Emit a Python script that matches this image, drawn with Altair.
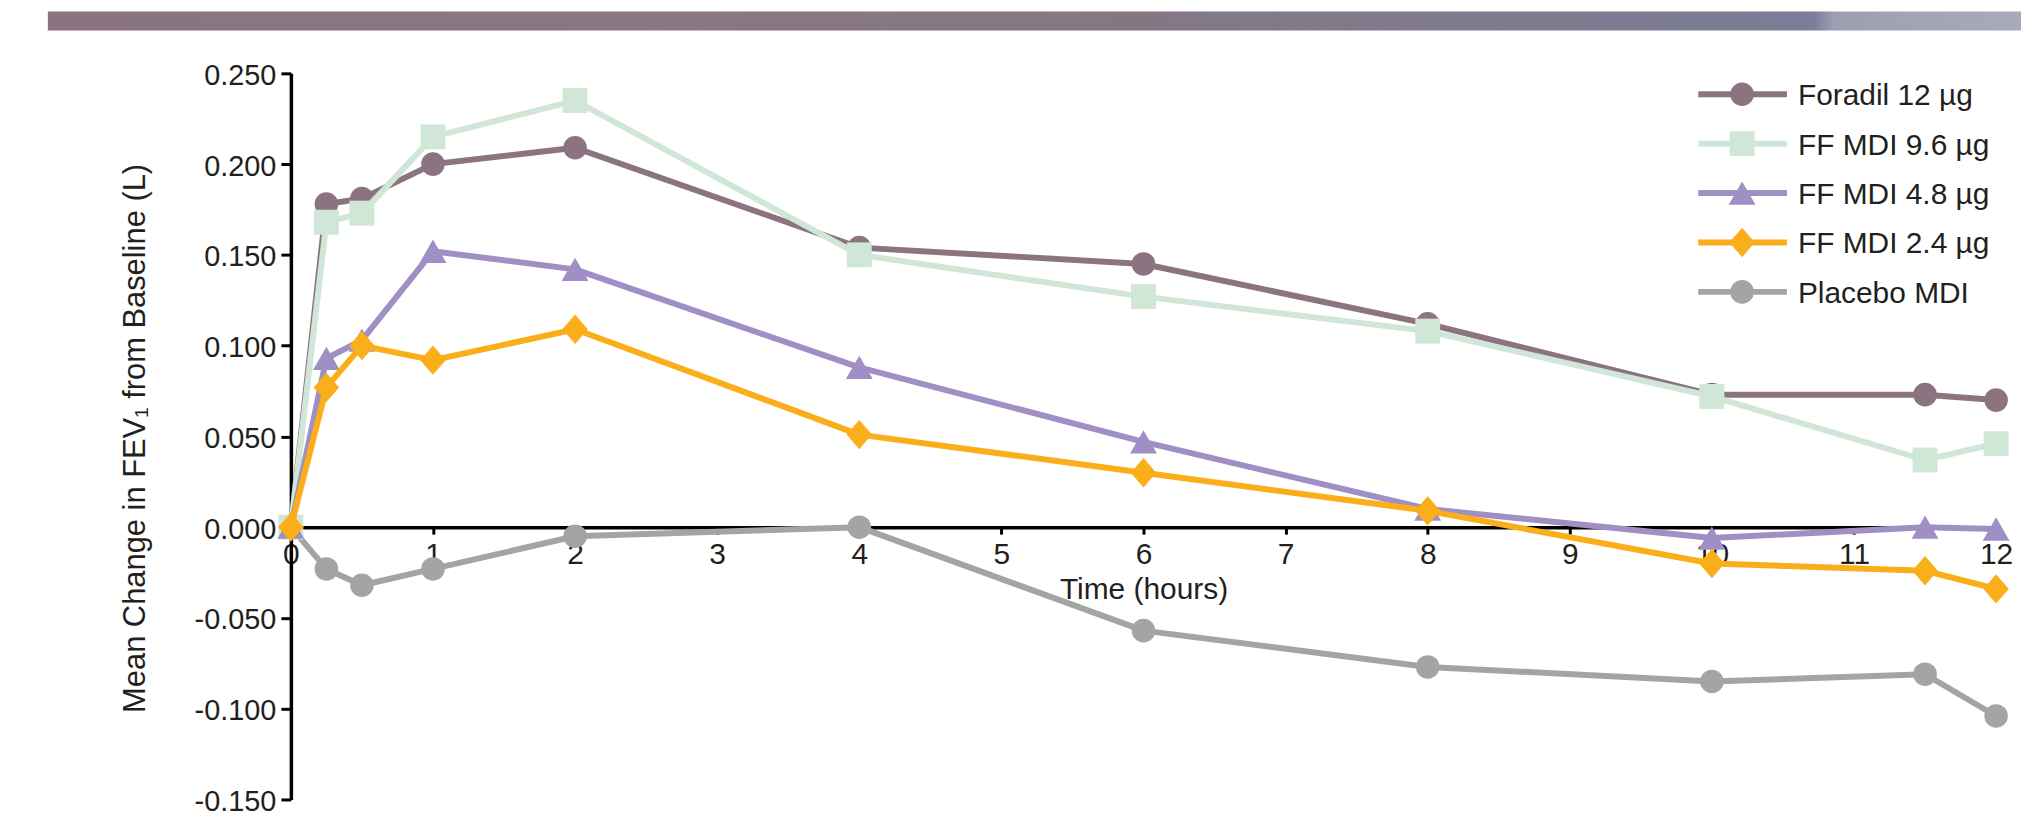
import altair as alt
import pandas as pd

# ---------------- data ----------------
hours = [0, 0.25, 0.5, 1, 2, 4, 6, 8, 10, 11.5, 12]
series_names = ["Foradil 12 µg", "FF MDI 9.6 µg", "FF MDI 4.8 µg", "FF MDI 2.4 µg", "Placebo MDI"]
foradil_12 = [0, 0.178, 0.181, 0.200, 0.209, 0.154, 0.145, 0.112, 0.073, 0.073, 0.070]
ff_mdi_9_6 = [0, 0.168, 0.173, 0.215, 0.235, 0.150, 0.127, 0.108, 0.072, 0.037, 0.046]
ff_mdi_4_8 = [0, 0.093, 0.103, 0.152, 0.142, 0.088, 0.047, 0.010, -0.006, 0.000, -0.001]
ff_mdi_2_4 = [0, 0.077, 0.100, 0.092, 0.109, 0.051, 0.030, 0.009, -0.020, -0.024, -0.034]
placebo_mdi = [0, -0.023, -0.032, -0.023, -0.005, 0.000, -0.057, -0.077, -0.085, -0.081, -0.104]
y_ticks = [-0.15, -0.10, -0.05, 0.0, 0.05, 0.10, 0.15, 0.20, 0.25]
x_ticks = list(range(0, 13))

series_values = [foradil_12, ff_mdi_9_6, ff_mdi_4_8, ff_mdi_2_4, placebo_mdi]

# ---------------- styles ----------------
colors = ["#8b7480", "#d0e7d8", "#a08fc5", "#f9ae1a", "#a3a5a4"]
diamond = "M0,-1.1L0.95,0L0,1.1L-0.95,0Z"
shapes = ["circle", "square", "triangle-up", diamond, "circle"]
sizes = [560, 625, 729, 720, 560]
draw_order = [4, 0, 1, 2, 3]  # bottom -> top

FONT = "Liberation Sans"
TXT = "#231f20"
W, H = 1712, 729
YMIN, YMAX = -0.15, 0.25
zero_px = H * YMAX / (YMAX - YMIN)

rows = []
for name, vals in zip(series_names, series_values):
    for t, v in zip(hours, vals):
        rows.append({"series": name, "hours": t, "value": v})
df = pd.DataFrame(rows)

color_scale = alt.Scale(domain=series_names, range=colors)
shape_scale = alt.Scale(domain=series_names, range=shapes)

x_enc = alt.X(
    "hours:Q",
    scale=alt.Scale(domain=[0, 12], nice=False, zero=False),
    axis=alt.Axis(
        values=x_ticks, format="d", title="Time (hours)", grid=False,
        offset=-(H - zero_px), domainColor="black", domainWidth=3.5,
        tickColor="black", tickWidth=3, tickSize=7,
        labelFont=FONT, labelFontSize=30, labelColor=TXT, labelPadding=5,
        labelFlush=False, labelOverlap=False,
        titleFont=FONT, titleFontSize=30, titleFontWeight="normal", titleColor=TXT,
        titleBaseline="alphabetic", titleY=72,
    ),
)
y_enc = alt.Y(
    "value:Q",
    scale=alt.Scale(domain=[YMIN, YMAX], nice=False, zero=False),
    axis=alt.Axis(
        values=y_ticks, title="Mean Change in FEV\u2081 from Baseline (L)", grid=False,
        labelExpr="replace(format(datum.value, '.3f'), '\u2212', '-')",
        domainColor="black", domainWidth=3.5, tickColor="black", tickWidth=3, tickSize=10,
        labelFont=FONT, labelFontSize=29, labelColor=TXT, labelPadding=5, labelOffset=2,
        labelFlush=False, labelOverlap=False,
        titleFont=FONT, titleFontSize=31, titleFontWeight="normal", titleColor=TXT,
        titleAngle=-90, titleBaseline="alphabetic", titleAlign="center",
        titleX=-147, titleY=366,
    ),
)
color_enc = alt.Color("series:N", scale=color_scale, legend=None)
shape_enc = alt.Shape("series:N", scale=shape_scale, legend=None)

# header band
band = alt.Chart(pd.DataFrame({"a": [0]})).mark_rect(
    color=alt.Gradient(
        gradient="linear", x1=0, x2=1, y1=0, y2=0,
        stops=[
            alt.GradientStop(color="#8b7480", offset=0),
            alt.GradientStop(color="#8a7584", offset=0.3),
            alt.GradientStop(color="#847784", offset=0.55),
            alt.GradientStop(color="#7b7c94", offset=0.85),
            alt.GradientStop(color="#7a7e98", offset=0.895),
            alt.GradientStop(color="#9c9eb2", offset=0.905),
            alt.GradientStop(color="#a8aabc", offset=1),
        ],
    )
).encode(x=alt.value(-244), x2=alt.value(1737), y=alt.value(-62), y2=alt.value(-43))

layers = [band]
for i in draw_order:
    name = series_names[i]
    base = alt.Chart(df).transform_filter(alt.datum.series == name)
    layers.append(base.mark_line(strokeWidth=6, strokeJoin="round").encode(
        x=x_enc, y=y_enc, color=color_enc))
    layers.append(base.mark_point(filled=True, opacity=1, size=sizes[i], strokeWidth=0).encode(
        x=x_enc, y=y_enc, color=color_enc, shape=shape_enc))

# custom legend (line + marker + label), positioned in pixels
leg_df = pd.DataFrame({
    "series": series_names,
    "ly": [21 + k * 49.6 for k in range(len(series_names))],
})
leg_y = alt.Y("ly:Q", scale=None, axis=None)
leg_rule = alt.Chart(leg_df).mark_rule(strokeWidth=6).encode(
    x=alt.value(1413), x2=alt.value(1502), y=leg_y, color=color_enc)
layers.append(leg_rule)
for i, name in enumerate(series_names):
    layers.append(alt.Chart(leg_df).transform_filter(alt.datum.series == name).mark_point(
        filled=True, opacity=1, size=sizes[i], strokeWidth=0).encode(
        x=alt.value(1457), y=leg_y, color=color_enc, shape=shape_enc))
leg_text = alt.Chart(leg_df).mark_text(
    align="left", baseline="middle", font=FONT, fontSize=30, color=TXT, dy=2).encode(
    x=alt.value(1513), y=leg_y, text="series:N")
layers.append(leg_text)

chart = alt.layer(*layers).properties(
    width=W, height=H,
    autosize=alt.AutoSizeParams(type="none"),
    padding={"left": 284, "top": 64, "right": 25, "bottom": 15},
).configure(background="white").configure_view(stroke=None, strokeWidth=0)

chart.save("out.html", embed_options={"renderer": "svg", "actions": False})
